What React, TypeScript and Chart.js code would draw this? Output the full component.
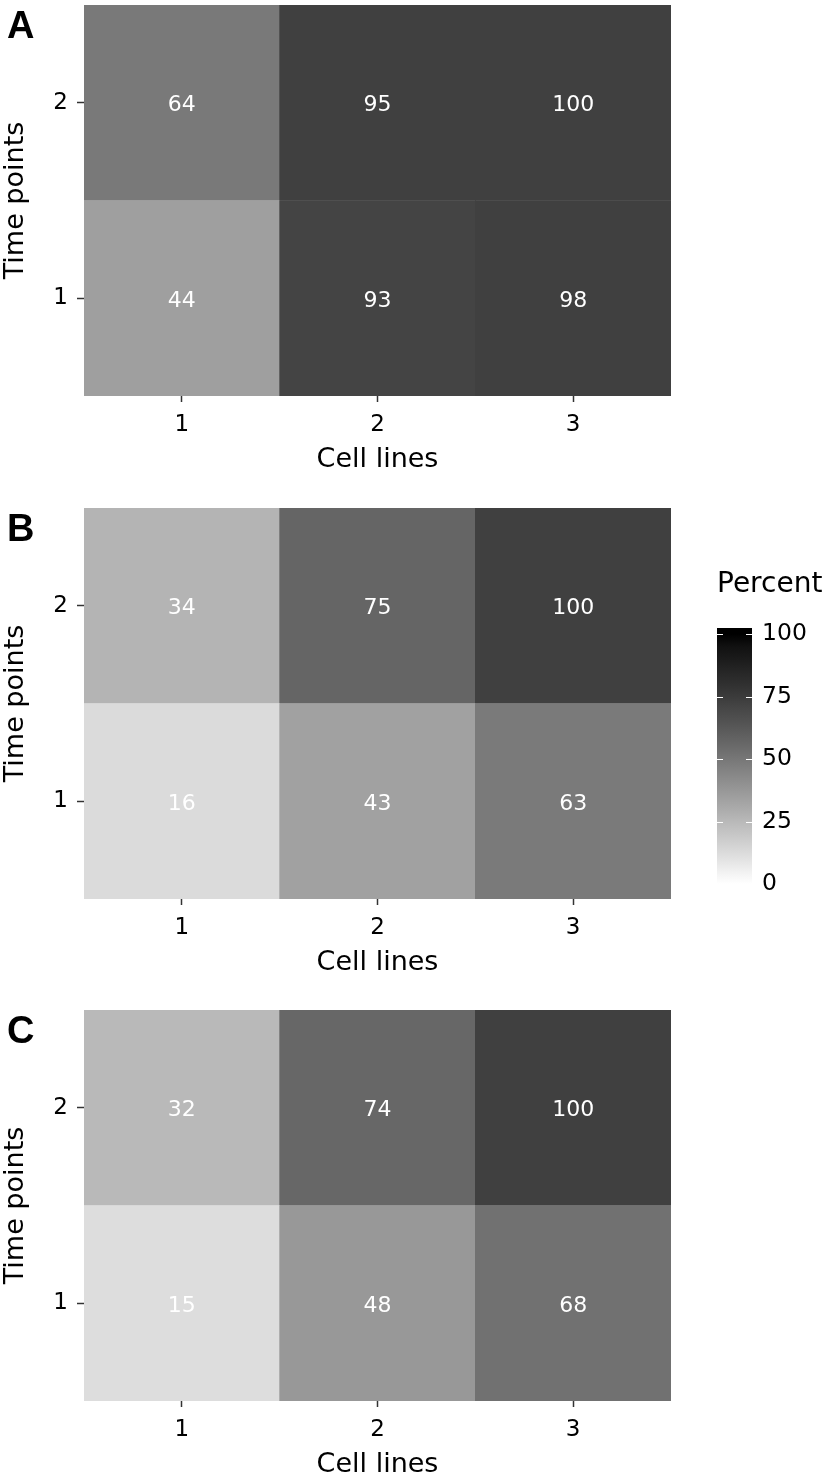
import React, { useEffect, useRef } from 'react';
import { Chart, registerables } from 'chart.js';

Chart.register(...registerables);

// ---- data ----
const cellLines = ['1', '2', '3'];
const timePoints = ['1', '2'];
const panelA_time1 = [44, 93, 98];
const panelA_time2 = [64, 95, 100];
const panelB_time1 = [16, 43, 63];
const panelB_time2 = [34, 75, 100];
const panelC_time1 = [15, 48, 68];
const panelC_time2 = [32, 74, 100];
const legendTicks = [0, 25, 50, 75, 100];
const legendTitle = 'Percent';
const xTitle = 'Cell lines';
const yTitle = 'Time points';

const FONT = "'DejaVu Sans', sans-serif";
const TILE_ALPHA = 0.75;
const TILE_GAIN = 1.06;

// white -> black gradient interpolated in CIE Lab (as ggplot does)
function labGray(v: number): number {
  const L = 100 - Math.max(0, Math.min(100, v));
  const fy = (L + 16) / 116;
  const Y = fy > 6 / 29 ? fy * fy * fy : (fy - 16 / 116) * 3 * (6 / 29) * (6 / 29);
  const s = Y <= 0.0031308 ? 12.92 * Y : 1.055 * Math.pow(Y, 1 / 2.4) - 0.055;
  return Math.round(Math.max(0, Math.min(1, s)) * 255);
}

function tileColor(v: number): string {
  const g = labGray(v * TILE_GAIN);
  const c = Math.round(TILE_ALPHA * g + (1 - TILE_ALPHA) * 255);
  return `rgb(${c},${c},${c})`;
}

const valueLabels = {
  id: 'valueLabels',
  afterDatasetsDraw(chart: any) {
    const ctx = chart.ctx;
    ctx.save();
    ctx.fillStyle = '#ffffff';
    ctx.font = `22px ${FONT}`;
    ctx.textAlign = 'center';
    ctx.textBaseline = 'middle';
    chart.data.datasets.forEach((ds: any, di: number) => {
      const meta = chart.getDatasetMeta(di);
      meta.data.forEach((el: any, i: number) => {
        const p = el.getProps(['x', 'y', 'base'], true);
        ctx.fillText(String(ds.values[i]), p.x, (p.y + p.base) / 2 + 3);
      });
    });
    ctx.restore();
  },
};

function makeLetterPlugin(letter: string) {
  return {
    id: 'panelLetter',
    afterDraw(chart: any) {
      const ctx = chart.ctx;
      ctx.save();
      ctx.fillStyle = '#000';
      ctx.font = `bold 38px 'Liberation Sans', Arial, sans-serif`;
      ctx.textAlign = 'left';
      ctx.textBaseline = 'alphabetic';
      ctx.fillText(letter, 7, 38);
      ctx.restore();
    },
  };
}

function noScalePadding(s: any) {
  s.paddingTop = 0;
  s.paddingBottom = 0;
  s.paddingLeft = 0;
  s.paddingRight = 0;
}

type PanelProps = { letter: string; time1: number[]; time2: number[]; top: number };

function Panel({ letter, time1, time2, top }: PanelProps) {
  const ref = useRef<HTMLCanvasElement>(null);
  useEffect(() => {
    const rows = [time1, time2];
    const chart = new Chart(ref.current as HTMLCanvasElement, {
      type: 'bar',
      data: {
        labels: cellLines,
        datasets: timePoints.map((tp, r) => ({
          label: tp,
          data: rows[r].map(() => [r, r + 1]),
          values: rows[r],
          backgroundColor: rows[r].map(tileColor),
          borderWidth: 0,
          barPercentage: 1,
          categoryPercentage: 1,
          grouped: false,
        })) as any,
      },
      options: {
        responsive: false,
        animation: false,
        devicePixelRatio: 1,
        layout: { padding: { top: 5, right: 158, left: 0, bottom: 0 } },
        plugins: {
          legend: { display: false },
          tooltip: { enabled: false },
        },
        scales: {
          x: {
            type: 'category',
            offset: true,
            grid: {
              offset: false,
              drawOnChartArea: false,
              drawTicks: true,
              tickLength: 6,
              tickWidth: 1.5,
              tickColor: '#333',
            },
            border: { display: false },
            ticks: { color: '#000', font: { family: FONT, size: 23 }, padding: 9, maxRotation: 0 },
            title: {
              display: true,
              text: xTitle,
              color: '#000',
              font: { family: FONT, size: 27 },
              padding: { top: 0, bottom: 0 },
            },
            afterFit: (s: any) => {
              s.height = 80;
              noScalePadding(s);
            },
          },
          y: {
            type: 'linear',
            min: 0,
            max: 2,
            afterBuildTicks: (s: any) => {
              s.ticks = timePoints.map((_, i) => ({ value: i + 0.5 }));
            },
            ticks: {
              color: '#000',
              font: { family: FONT, size: 23 },
              padding: 9,
              callback: (v: any) => timePoints[Math.floor(Number(v))],
            },
            grid: {
              drawOnChartArea: false,
              drawTicks: true,
              tickLength: 7,
              tickWidth: 1.5,
              tickColor: '#333',
            },
            border: { display: false },
            title: {
              display: true,
              text: yTitle,
              color: '#000',
              font: { family: FONT, size: 27 },
              padding: { top: 0, bottom: 0 },
            },
            afterFit: (s: any) => {
              s.width = 84;
              noScalePadding(s);
            },
          },
        },
      } as any,
      plugins: [valueLabels, makeLetterPlugin(letter)],
    });
    return () => chart.destroy();
  }, []);
  return (
    <canvas
      ref={ref}
      width={829}
      height={476}
      style={{ position: 'absolute', left: 0, top, width: 829, height: 476 }}
    />
  );
}

const colorbarTicks = {
  id: 'colorbarTicks',
  afterDatasetsDraw(chart: any) {
    const ctx = chart.ctx;
    const ys = chart.scales.y;
    const { left, right } = chart.chartArea;
    ctx.save();
    ctx.strokeStyle = '#ffffff';
    ctx.lineWidth = 1;
    legendTicks.forEach((v) => {
      const y = Math.round(ys.getPixelForValue(v)) + 0.5;
      ctx.beginPath();
      ctx.moveTo(left, y);
      ctx.lineTo(left + 6, y);
      ctx.moveTo(right - 6, y);
      ctx.lineTo(right, y);
      ctx.stroke();
    });
    ctx.restore();
  },
};

function ColorLegend() {
  const ref = useRef<HTMLCanvasElement>(null);
  useEffect(() => {
    const lo = legendTicks[0];
    const hi = legendTicks[legendTicks.length - 1];
    const chart = new Chart(ref.current as HTMLCanvasElement, {
      type: 'bar',
      data: {
        labels: [''],
        datasets: [
          {
            data: [[lo - 2.4, hi + 2.4]],
            backgroundColor: (c: any) => {
              const ch = c.chart;
              const ys = ch.scales && ch.scales.y;
              if (!ys || !ch.chartArea) return '#000';
              const g = ch.ctx.createLinearGradient(0, ys.getPixelForValue(lo), 0, ys.getPixelForValue(hi));
              for (let v = lo; v <= hi; v += 5) {
                const k = labGray(v);
                g.addColorStop((v - lo) / (hi - lo), `rgb(${k},${k},${k})`);
              }
              return g;
            },
            borderWidth: 0,
            barPercentage: 1,
            categoryPercentage: 1,
          },
        ] as any,
      },
      options: {
        responsive: false,
        animation: false,
        devicePixelRatio: 1,
        layout: { padding: { top: 0, left: 0, right: 0, bottom: 10 } },
        plugins: {
          legend: { display: false },
          tooltip: { enabled: false },
          title: {
            display: true,
            text: legendTitle,
            align: 'start',
            color: '#000',
            font: { family: FONT, size: 28, weight: 'normal' },
            padding: { top: 8, bottom: 26.5 },
          },
        },
        scales: {
          x: { display: false },
          y: {
            position: 'right',
            min: lo - 2.4,
            max: hi + 2.4,
            afterBuildTicks: (s: any) => {
              s.ticks = legendTicks.map((v) => ({ value: v }));
            },
            ticks: { color: '#000', font: { family: FONT, size: 23.5 }, padding: 10 },
            grid: { display: false, drawTicks: false },
            border: { display: false },
            afterFit: (s: any) => {
              s.width = 77;
              noScalePadding(s);
            },
          },
        },
      } as any,
      plugins: [colorbarTicks],
    });
    return () => chart.destroy();
  }, []);
  return (
    <canvas
      ref={ref}
      width={112}
      height={340}
      style={{ position: 'absolute', left: 717, top: 560, width: 112, height: 340 }}
    />
  );
}

export default function App() {
  return (
    <div
      style={{
        position: 'absolute',
        left: 0,
        top: 0,
        width: 829,
        height: 1480,
        background: '#ffffff',
        overflow: 'hidden',
      }}
    >
      <Panel letter="A" time1={panelA_time1} time2={panelA_time2} top={0} />
      <Panel letter="B" time1={panelB_time1} time2={panelB_time2} top={503} />
      <Panel letter="C" time1={panelC_time1} time2={panelC_time2} top={1005} />
      <ColorLegend />
    </div>
  );
}
